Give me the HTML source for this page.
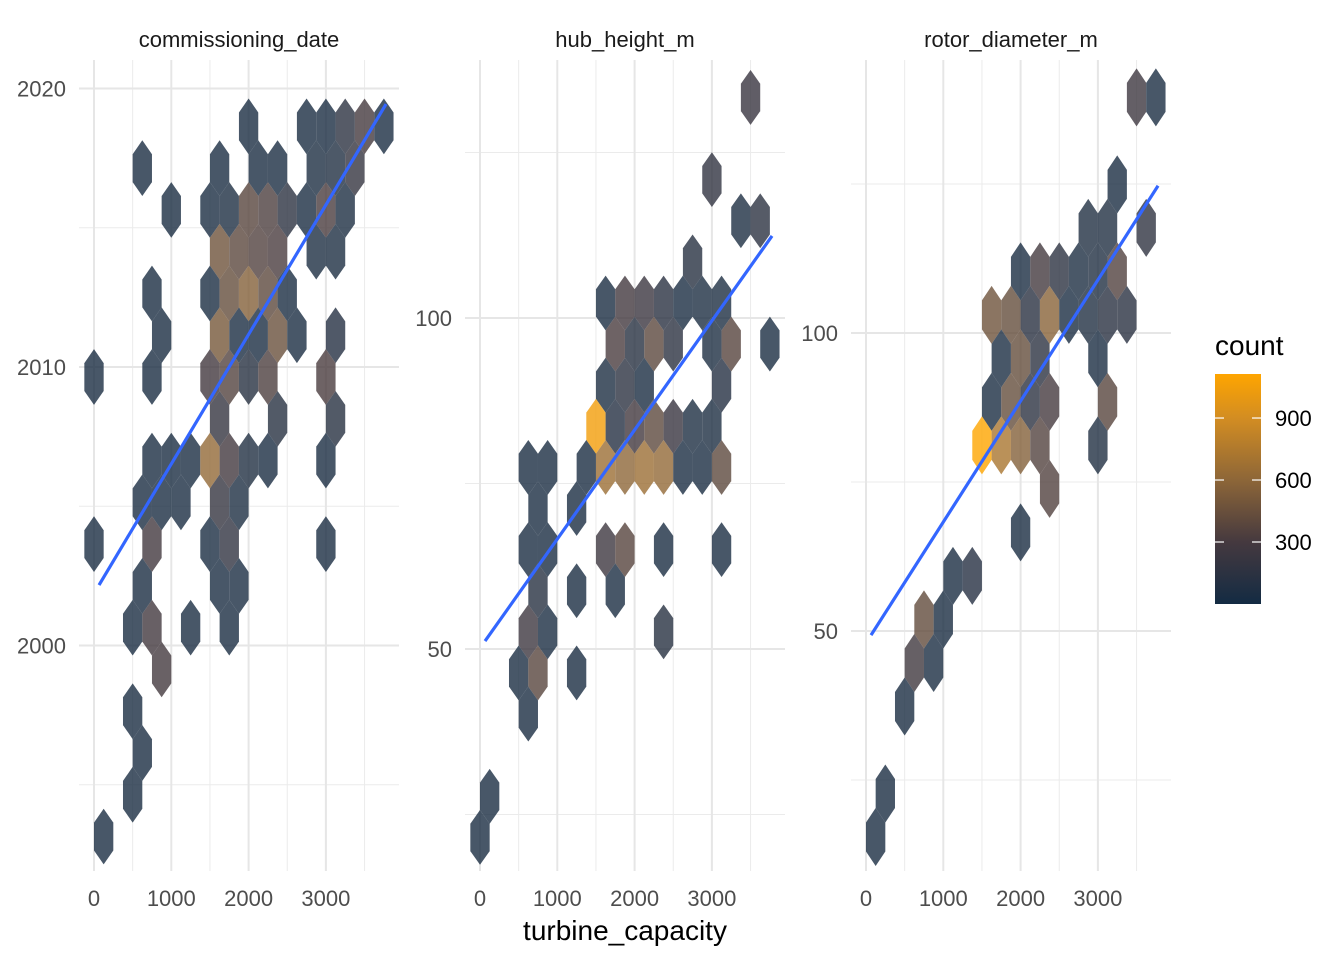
<!DOCTYPE html>
<html><head><meta charset="utf-8"><title>Hexbin facets</title>
<style>
html,body{margin:0;padding:0;background:#fff;}
svg{display:block;font-family:"Liberation Sans",Arial,sans-serif;}
</style></head>
<body>
<svg id="chart" width="1344" height="960" viewBox="0 0 1344 960">
<defs>
<linearGradient id="cgrad" x1="0" y1="1" x2="0" y2="0">
<stop offset="0" stop-color="#132B43"/>
<stop offset="0.2696" stop-color="#45393f"/>
<stop offset="0.5391" stop-color="#8d6638"/>
<stop offset="0.8086" stop-color="#d38d22"/>
<stop offset="1" stop-color="#ffa500"/>
</linearGradient>
</defs>
<g id="grid"></g>
<g id="hexes"></g>
<g id="lines"></g>
<g id="labels"></g>
<g id="legend">
<text x="1215" y="355" font-size="28" fill="#000">count</text>
<rect x="1215" y="374" width="46" height="230" fill="url(#cgrad)"/>
</g>
<text x="625" y="940" font-size="28" fill="#000" text-anchor="middle">turbine_capacity</text>
</svg>
<script>
// ---- data: panel 1 (commissioning_date) ----
const p1Cap = [2000,2750,3000,3250,3500,3750, 625,1625,2125,2375,2875,3125,3375, 1000,1500,1750,2000,2250,2500,2750,3000,3250, 1625,1875,2125,2375,2875,3125, 750,1500,1750,2000,2250,2500, 875,1625,1875,2125,2375,2625,3125, 0,750,1500,1750,2000,2250,3000, 1625,2375,3125, 750,1000,1250,1500,1750,2000,2250,3000, 625,875,1125,1625,1875, 0,750,1500,1750,3000, 625,1625,1875, 500,750,1250,1750, 875, 500, 625, 500, 125];
const p1Val = [2018.64,2018.64,2018.64,2018.64,2018.64,2018.64, 2017.14,2017.14,2017.14,2017.14,2017.14,2017.14,2017.14, 2015.64,2015.64,2015.64,2015.64,2015.64,2015.64,2015.64,2015.64,2015.64, 2014.14,2014.14,2014.14,2014.14,2014.14,2014.14, 2012.64,2012.64,2012.64,2012.64,2012.64,2012.64, 2011.14,2011.14,2011.14,2011.14,2011.14,2011.14,2011.14, 2009.64,2009.64,2009.64,2009.64,2009.64,2009.64,2009.64, 2008.14,2008.14,2008.14, 2006.64,2006.64,2006.64,2006.64,2006.64,2006.64,2006.64,2006.64, 2005.14,2005.14,2005.14,2005.14,2005.14, 2003.64,2003.64,2003.64,2003.64,2003.64, 2002.14,2002.14,2002.14, 2000.64,2000.64,2000.64,2000.64, 1999.14, 1997.64, 1996.14, 1994.64, 1993.14];
const p1Cnt = [40,40,40,150,300,40, 40,40,40,40,60,80,200, 40,40,60,380,330,150,40,320,60, 470,390,350,320,60,60, 40,40,430,560,400,40, 40,500,40,40,450,40,100, 40,40,280,360,120,330,320, 200,120,120, 40,40,40,620,280,80,40,40, 40,40,40,200,60, 40,280,40,180,40, 40,40,40, 40,280,40,40, 290, 40, 40, 40, 40];
// ---- data: panel 2 (hub_height_m) ----
const p2Cap = [3500, 3000, 3375,3625, 2750, 1625,1875,2125,2375,2625,2875,3125, 1750,2000,2250,2500,3000,3250,3750, 1625,1875,2125,3125, 1500,1750,2000,2250,2500,2750,3000, 625,875,1375,1625,1875,2125,2375,2625,2875,3125, 750,1250, 625,875,1625,1875,2375,3125, 750,1250,1750, 625,875,2375, 500,750,1250, 625, 125, 0];
const p2Val = [133.32, 120.9, 114.69,114.69, 108.48, 102.27,102.27,102.27,102.27,102.27,102.27,102.27, 96.06,96.06,96.06,96.06,96.06,96.06,96.06, 89.85,89.85,89.85,89.85, 83.64,83.64,83.64,83.64,83.64,83.64,83.64, 77.43,77.43,77.43,77.43,77.43,77.43,77.43,77.43,77.43,77.43, 71.22,71.22, 65.01,65.01,65.01,65.01,65.01,65.01, 58.8,58.8,58.8, 52.59,52.59,52.59, 46.38,46.38,46.38, 40.17, 27.75, 21.54];
const p2Cnt = [220, 180, 60,150, 120, 40,280,240,130,40,60,60, 320,120,390,150,60,370,40, 60,150,40,100, 1050,100,280,400,220,60,60, 40,40,40,660,600,660,620,40,40,400, 40,40, 40,40,250,370,40,40, 120,40,40, 250,40,120, 40,380,40, 40, 40, 40];
// ---- data: panel 3 (rotor_diameter_m) ----
const p3Cap = [3500,3750, 3250, 2875,3125,3625, 2000,2250,2500,2750,3000,3250, 1625,1875,2125,2375,2625,2875,3125,3375, 1750,2000,2250,3000, 1625,1875,2125,2375,3125, 1500,1750,2000,2250,3000, 2375, 2000, 1125,1375, 750,1000, 625,875, 500, 250, 125];
const p3Val = [139.54,139.54, 124.94, 117.64,117.64,117.64, 110.34,110.34,110.34,110.34,110.34,110.34, 103.04,103.04,103.04,103.04,103.04,103.04,103.04,103.04, 95.74,95.74,95.74,95.74, 88.44,88.44,88.44,88.44,88.44, 81.14,81.14,81.14,81.14,81.14, 73.84, 66.54, 59.24,59.24, 51.94,51.94, 44.64,44.64, 37.34, 22.74, 15.44];
const p3Cnt = [250,40, 40, 80,80,170, 40,290,150,60,80,350, 470,430,130,580,40,80,130,130, 40,430,150,40, 40,430,150,300,380, 1110,720,560,360,80, 350, 40, 40,110, 420,40, 270,40, 40, 40, 40];
// ---- smoothing lines ----
const lineX = [65, 3778];
const p1Line = [2002.17, 2019.44];
const p2Line = [51.2, 112.4];
const p3Line = [49.3, 124.7];
// ---- ticks ----
const xTicks = [0,1000,2000,3000];
const xMinor = [500,1500,2500,3500];
const p1YTicks = [2000,2010,2020]; const p1YMinor = [1995,2005,2015];
const p2YTicks = [50,100]; const p2YMinor = [25,75,125];
const p3YTicks = [50,100]; const p3YMinor = [25,75,125];
const legendTicks = [300,600,900];
const binH = [1.5, 6.21, 7.3];
const binW = 250;

const NS = 'http://www.w3.org/2000/svg';
const panels = [
  {name:'commissioning-date', title:'commissioning_date', left:79, x0:94, y0:367, v0:2010, ys:27.85, cap:p1Cap, val:p1Val, cnt:p1Cnt, line:p1Line, yt:p1YTicks, ym:p1YMinor, bh:binH[0]},
  {name:'hub-height', title:'hub_height_m', left:465, x0:480, y0:649, v0:50, ys:6.62, cap:p2Cap, val:p2Val, cnt:p2Cnt, line:p2Line, yt:p2YTicks, ym:p2YMinor, bh:binH[1]},
  {name:'rotor-diameter', title:'rotor_diameter_m', left:851, x0:866, y0:631, v0:50, ys:5.96, cap:p3Cap, val:p3Val, cnt:p3Cnt, line:p3Line, yt:p3YTicks, ym:p3YMinor, bh:binH[2]}
];
const XS = 0.0773, TOP = 60, BOT = 871, PW = 320;
const stopsC = [0,300,600,900,1113];
const stopsRGB = [[19,43,67],[69,57,63],[141,102,56],[211,141,34],[255,165,0]];
function colorFor(c){
  if(c<=stopsC[0]) return 'rgb('+stopsRGB[0].join(',')+')';
  for(let i=1;i<stopsC.length;i++){
    if(c<=stopsC[i]){const t=(c-stopsC[i-1])/(stopsC[i]-stopsC[i-1]);
      const a=stopsRGB[i-1],b=stopsRGB[i];
      return 'rgb('+a.map((v,j)=>Math.round(v+(b[j]-v)*t)).join(',')+')';}
  }
  return 'rgb(255,165,0)';
}
function mk(tag, attrs, parent){const e=document.createElementNS(NS,tag);for(const k in attrs)e.setAttribute(k,attrs[k]);parent.appendChild(e);return e;}
const gGrid=document.getElementById('grid'), gHex=document.getElementById('hexes'), gLines=document.getElementById('lines'), gLab=document.getElementById('labels');

panels.forEach(function(p){
  const xs = v => p.x0 + v*XS;
  const ys = v => p.y0 - (v - p.v0)*p.ys;
  // gridlines
  xMinor.forEach(function(t){
    const l=mk('line',{x1:xs(t),x2:xs(t),y1:TOP,y2:BOT,stroke:'#ebebeb','stroke-width':1},gGrid);
    
    
  });
  p.ym.forEach(function(t){
    const l=mk('line',{x1:p.left,x2:p.left+PW,y1:ys(t),y2:ys(t),stroke:'#ebebeb','stroke-width':1},gGrid);
    
    
  });
  xTicks.forEach(function(t){
    const l=mk('line',{x1:xs(t),x2:xs(t),y1:TOP,y2:BOT,stroke:'#e6e6e6','stroke-width':2},gGrid);
    
    
    const tx=mk('text',{x:xs(t),y:906,'font-size':22,fill:'#4d4d4d','text-anchor':'middle'},gLab);
    tx.textContent=t;
    
    
  });
  p.yt.forEach(function(t){
    const l=mk('line',{x1:p.left,x2:p.left+PW,y1:ys(t),y2:ys(t),stroke:'#e6e6e6','stroke-width':2},gGrid);
    
    
    const tx=mk('text',{x:p.left-13,y:ys(t)+8,'font-size':22,fill:'#4d4d4d','text-anchor':'end'},gLab);
    tx.textContent=t;
    
    
  });
  const st=mk('text',{x:p.left+PW/2,y:47,'font-size':22,fill:'#1a1a1a','text-anchor':'middle'},gLab);
  st.textContent=p.title;
  
  
  // hexes
  const hw = binW*XS/2, hh = p.bh*p.ys*2/3;
  for(let i=0;i<p.cap.length;i++){
    const cx=xs(p.cap[i]), cy=ys(p.val[i]);
    const pts=[[cx,cy-hh],[cx+hw,cy-hh/2],[cx+hw,cy+hh/2],[cx,cy+hh],[cx-hw,cy+hh/2],[cx-hw,cy-hh/2]].map(q=>q[0].toFixed(2)+','+q[1].toFixed(2)).join(' ');
    const h=mk('polygon',{points:pts,fill:colorFor(p.cnt[i]),'fill-opacity':0.8},gHex);
    
    
  }
  // smooth line
  const ln=mk('line',{x1:xs(lineX[0]),y1:ys(p.line[0]),x2:xs(lineX[1]),y2:ys(p.line[1]),stroke:'#3366FF','stroke-width':3.2,'stroke-linecap':'butt'},gLines);
  
  
});

// legend ticks
const lg=document.getElementById('legend');
legendTicks.forEach(function(t){
  const y = 604 - t*(230/1113);
  const a=mk('line',{x1:1215,x2:1224,y1:y,y2:y,stroke:'#fff','stroke-width':1.2},lg);
  
  
  const b=mk('line',{x1:1252,x2:1261,y1:y,y2:y,stroke:'#fff','stroke-width':1.2},lg);
  
  
  const tx=mk('text',{x:1275,y:y+8,'font-size':22,fill:'#000'},lg);
  tx.textContent=t;
  
  
});
</script>
</body></html>
